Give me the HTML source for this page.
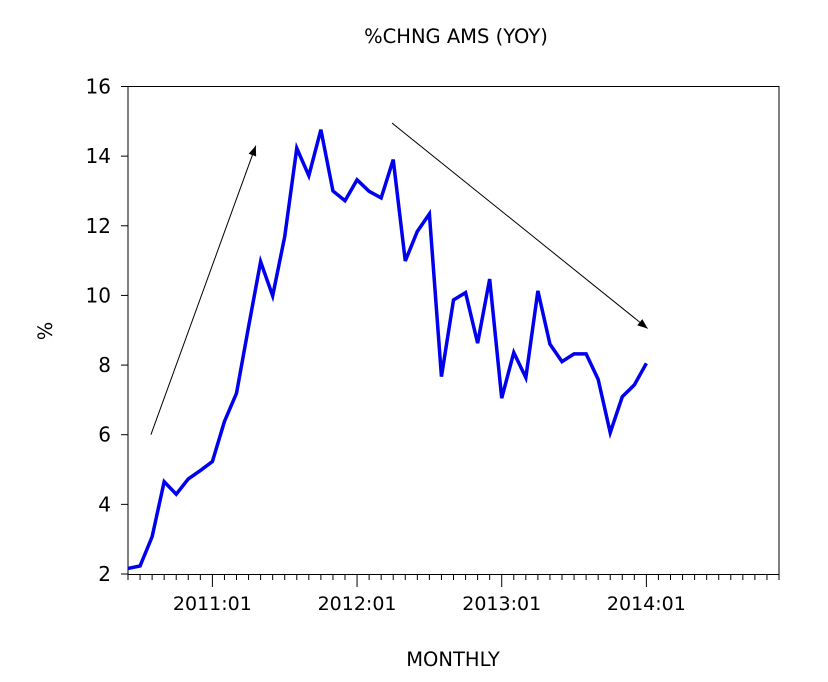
<!DOCTYPE html>
<html><head><meta charset="utf-8"><style>
html,body{margin:0;padding:0;background:#fff;}
svg{display:block;font-family:"DejaVu Sans","Liberation Sans",Arial,sans-serif;}
</style></head><body>
<svg id="chart" width="828" height="682" viewBox="0 0 828 682">
<rect x="0" y="0" width="828" height="682" fill="#fff"/>
<text x="456" y="43" font-size="19.5" text-anchor="middle" fill="#000">%CHNG AMS (YOY)</text>
<text x="453" y="666" font-size="19.5" text-anchor="middle" fill="#000">MONTHLY</text>
<text transform="translate(52,331) rotate(-90)" font-size="19.5" text-anchor="middle" fill="#000">%</text>
<rect x="128" y="86.5" width="651" height="488" fill="none" stroke="#000" stroke-width="1"/>
<g id="yaxis"></g>
<g id="xaxis"></g>
<g id="series"></g>
<g id="annot"></g>
</svg>
<script>
const yTicks = [2,4,6,8,10,12,14,16];
const xTickLabels = ["2011:01","2012:01","2013:01","2014:01"];
const xTickIndex = [7,19,31,43];
const monthCount = 55;
const amsYoy = [2.16,2.23,3.07,4.65,4.29,4.73,4.97,5.23,6.38,7.19,9.1,10.97,9.99,11.69,14.23,13.44,14.76,13.0,12.72,13.32,12.99,12.8,13.9,10.99,11.84,12.34,7.67,9.87,10.08,8.63,10.47,7.05,8.36,7.64,10.13,8.6,8.1,8.32,8.32,7.59,6.06,7.09,7.43,8.05];
const upArrow = [[1.9,6.0],[10.6,14.3]];
const downArrow = [[21.9,14.95],[43.1,9.05]];

const NS="http://www.w3.org/2000/svg";
const X0=128,X1=779,Y0=574,Y1=86.5,ymin=2,ymax=16;
const xs=i=>X0+(X1-X0)*i/(monthCount-1);
const ys=v=>Y0-(Y0-Y1)*(v-ymin)/(ymax-ymin);
function mk(tag,attrs,parent){const e=document.createElementNS(NS,tag);for(const k in attrs)e.setAttribute(k,attrs[k]);parent.appendChild(e);return e;}
const ya=document.getElementById('yaxis');
yTicks.forEach(v=>{
  const l=mk('line',{x1:X0-7,x2:X0,y1:ys(v),y2:ys(v),stroke:'#000'},ya);
  
  
  const t=mk('text',{x:X0-17,y:ys(v)+7,'font-size':20,'text-anchor':'end',fill:'#000'},ya);
  t.textContent=v;
  
  
});
const xa=document.getElementById('xaxis');
for(let i=0;i<monthCount;i++){
  const major=xTickIndex.includes(i);
  const l=mk('line',{x1:xs(i),x2:xs(i),y1:Y0,y2:Y0+(major?13:6),stroke:'#000'},xa);
  
  
}
xTickLabels.forEach((s,k)=>{
  const t=mk('text',{x:xs(xTickIndex[k]),y:610,'font-size':19,'text-anchor':'middle',fill:'#000'},xa);
  t.textContent=s;
  
  
});
const sg=document.getElementById('series');
const p=mk('polyline',{points:amsYoy.map((v,i)=>xs(i)+','+ys(v)).join(' '),fill:'none',stroke:'#0000ee','stroke-width':3.5,'stroke-linejoin':'miter'},sg);


const an=document.getElementById('annot');
function arrow(a,name){
  const x1=xs(a[0][0]),y1=ys(a[0][1]),x2=xs(a[1][0]),y2=ys(a[1][1]);
  const g=mk('g',{},an);
  
  
  mk('line',{x1:x1,y1:y1,x2:x2,y2:y2,stroke:'#000','stroke-width':1},g);
  const ang=Math.atan2(y2-y1,x2-x1),L=10,W=4;
  const bx=x2-L*Math.cos(ang),by=y2-L*Math.sin(ang);
  const px=-Math.sin(ang)*W,py=Math.cos(ang)*W;
  mk('polygon',{points:`${x2},${y2} ${bx+px},${by+py} ${bx-px},${by-py}`,fill:'#000'},g);
}
arrow(upArrow,'up-trend-arrow');
arrow(downArrow,'down-trend-arrow');
</script>
</body></html>
